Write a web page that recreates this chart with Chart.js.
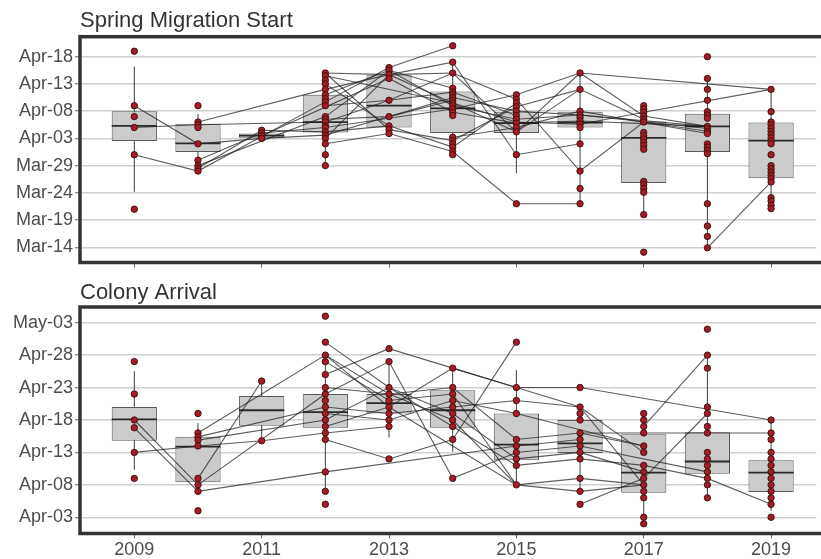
<!DOCTYPE html>
<html>
<head>
<meta charset="utf-8">
<script src="https://cdn.jsdelivr.net/npm/chart.js@4.4.1/dist/chart.umd.min.js"></script>
<style>
  html, body { margin: 0; padding: 0; background: #ffffff; overflow: hidden; }
  canvas { display: block; }
</style>
</head>
<body>
<canvas id="spring" width="821" height="280"></canvas>
<canvas id="arrival" width="821" height="279"></canvas>
<script>
// Day-of-year values (non-leap year): Mar-14 = 73, Apr-03 = 93, May-03 = 123.
const _ = null;
const years = [2009, 2010, 2011, 2012, 2013, 2014, 2015, 2016, 2017, 2018, 2019];
const yearTicks = [2009, 2011, 2013, 2015, 2017, 2019];

// ---------- Spring migration start ----------
const springTickDays = [73, 78, 83, 88, 93, 98, 103, 108];
const springTickLabels = ['Mar-14', 'Mar-19', 'Mar-24', 'Mar-29', 'Apr-03', 'Apr-08', 'Apr-13', 'Apr-18'];

const springLow  = [83.2, 87,   93,   88,   93.9, 90,   86.6, 81,   79,   72.9, 80];
const springQ1   = [92.5, 90.5, 93.1, 94.1, 95,   94,   94,   95,   84.8, 90.5, 85.7];
const springMed  = [95.3, 92.1, 93.5, 96,   99,   98.5, 95.8, 95.9, 93.1, 95.2, 92.6];
const springQ3   = [98,   95.7, 93.9, 101,  104.6, 101.6, 97.9, 97.9, 96.1, 97.5, 95.9];
const springHigh = [106.2, 97.5, 94.5, 105, 106,  107,  101,  105,  99,   104,  102];

const springPoints = [
  [109, 99, 97, 95, 90, 80],
  [99, 96, 95.5, 95, 92, 89, 88, 87.5, 87],
  [94.5, 94, 93.5, 93],
  [105, 104.5, 103.7, 103, 102, 101, 100.3, 99.7, 99, 97, 96.5, 96, 95.3, 95, 94.2, 93.6, 93, 92, 90, 88],
  [106, 105.5, 104.7, 104, 100, 97, 95.3, 94.6, 93.9],
  [110, 107, 105, 102.2, 101.5, 101, 100.5, 100, 99.5, 99, 98.4, 97.8, 97.2, 93.2, 92.6, 92, 91.4, 90.6, 90],
  [101, 100.2, 99.5, 98.8, 98, 97.2, 96.5, 95.8, 95, 94.2, 90, 81],
  [105, 102, 98, 97.3, 96.8, 96.2, 95.6, 95, 92, 87, 83.8, 81],
  [99, 98.4, 97.8, 97.1, 96.5, 96, 94.1, 93.5, 92.9, 92.3, 91.7, 91, 85.1, 84.5, 83.8, 83.1, 79, 72.1],
  [108, 104, 102, 100, 97.9, 97.3, 96.7, 95.2, 94.8, 94.3, 93.9, 92, 91.4, 90.8, 90.2, 81, 76.9, 75, 72.9],
  [102, 97.9, 96, 95.5, 94.9, 94.3, 93.7, 93.1, 92.5, 92, 90, 88, 87.4, 86.8, 86.2, 85.6, 85, 82.1, 81.5, 80.7, 80.1]
];

// One row per tracked bird, one column per year
const springTracks = [
  [99, 92, 93, 93.6, 97, 100, _, _, _, _, _],
  [90, 87, _, 99.7, 106, 110, _, _, _, _, _],
  [95, 95.5, _, 96, 100, 101.5, 97.2, _, _, _, _],
  [_, 96, _, 102, 104.7, 107, 90, 92, _, _, _],
  [_, 88, _, 97, 105.5, 102.2, _, _, _, _, _],
  [_, 89, 94, 95, _, 98.4, 101, 105, _, _, 102],
  [_, 87.5, 94.5, 94.2, 95.3, _, _, _, _, _, _],
  [_, _, 93.5, _, 104, 97.8, 95.8, 96.2, _, 95.2, _],
  [_, _, _, 105, 94.6, 92.6, 98.8, 102, 96.5, _, _],
  [_, _, _, 104.5, _, 99.5, 94.2, 105, 97.1, 95.2, _],
  [_, _, _, 92, 93.9, 90.6, 81, 81, _, _, _],
  [_, _, _, 103, 95.3, 91.4, 99.5, _, _, _, _],
  [_, _, _, 101, 105.5, 99, 96.5, 97.3, _, 94.8, _],
  [_, _, _, 93, 104.7, 105, 100.2, 87, 96, 94.3, _],
  [_, _, _, _, _, 93.2, 95, 98, _, 93.9, _],
  [_, _, _, _, _, _, _, 95.6, 97.8, _, 102],
  [_, _, _, _, _, _, _, _, _, 72.9, 85],
  [_, _, _, 105, 104.7, 99.5, 96, 95.6, _, _, _],
  [_, _, _, 96.5, 97, 100.5, 98, 97.3, _, 95.2, _],
  [_, _, _, 99, 100, 105, 94.2, 102, _, _, _]
];

// ---------- Colony arrival ----------
const arrivalTickDays = [93, 98, 103, 108, 113, 118, 123];
const arrivalTickLabels = ['Apr-03', 'Apr-08', 'Apr-13', 'Apr-18', 'Apr-23', 'Apr-28', 'May-03'];

const arrivalLow  = [100.3, 96.5, 104.8, 97.5, 105.3, 103.1, 98,    97,    92,    96,    94];
const arrivalQ1   = [104.8, 98.4, 107.1, 106.8, 109,  106.8, 101.8, 102.9, 96.8,  99.7,  96.9];
const arrivalMed  = [108.1, 103.9, 109.5, 109.2, 110.6, 109.5, 104.2, 104.4, 99.9, 101.6, 99.9];
const arrivalQ3   = [110,   105.4, 111.7, 112,  112,   112.6, 109,   108,   105.8, 106.1, 101.8];
const arrivalHigh = [115.5, 107.5, 114,   118,  117,   116,   115.7, 110,   109,   118,   108];

const arrivalPoints = [
  [117, 112, 108, 106.8, 103, 99],
  [109, 106, 105.4, 104.9, 104, 99, 98, 97, 94],
  [114, 104.8],
  [124, 120, 118, 117, 115, 113, 112, 111, 110, 109, 108, 107, 106, 105, 100, 97, 95],
  [119, 117, 113, 112, 111, 110, 109, 108, 107, 102],
  [116, 113, 112, 111, 110, 109, 108, 107, 105, 99],
  [120, 113, 111, 109, 105, 104, 103, 102, 101, 98],
  [113, 110, 109, 108, 106, 105, 104, 103, 102, 99, 97, 95],
  [109, 108, 107, 106, 104, 103, 101, 100, 99, 98, 97, 96, 93, 92],
  [122, 118, 116, 110, 109, 107, 106, 103, 102, 101, 100, 99, 98, 96],
  [108, 106, 105, 103, 102, 101, 100, 99, 98, 97, 96, 95, 93]
];

const arrivalTracks = [
  [108, 98, _, 112, _, _, _, _, _, _, _],
  [106.8, 97, _, 100, _, _, 104, 105, _, _, _],
  [103, 104, 104.8, 106, 107, _, _, _, _, _, _],
  [_, 99, 114, _, _, _, _, _, _, _, _],
  [_, 106, _, 118, 112, 108, 98, _, _, _, _],
  [_, 105.4, _, 110, 109, 110, 111, 110, 103, _, _],
  [_, 104.9, _, 108, 113, 109, 102, 103, 100, _, _],
  [_, _, _, 120, 113, 107, 101, 102, 101, 99, 95],
  [_, _, _, 117, 111, 112, 98, 99, 98, _, _],
  [_, _, _, 115, 119, 116, 113, 113, _, _, 108],
  [_, _, _, 105, 102, 105, 120, _, _, _, _],
  [_, _, _, 112, 117, 99, 103, 104, _, 100, _],
  [_, _, _, 109, 108, 111, 109, _, 104, _, _],
  [_, _, _, 118, 110, _, 98, 97, 98, _, _],
  [_, _, _, _, _, _, _, 95, 99, 109, _],
  [_, _, _, _, _, _, _, _, 107, 118, _],
  [_, _, _, _, _, _, _, _, _, 106, 106],
  [_, _, _, _, _, _, _, 106, _, 106, _],
  [_, _, _, 113, 112, 113, 105, 106, 104, _, _],
  [_, _, _, 107, 110, 116, 113, 110, 98, _, _]
];

// ---------- Drawing ----------
Chart.defaults.font.family = "'Liberation Sans', Arial, sans-serif";
const BOX_FRACTION = 0.71;
const TEXT_GREY = '#4d4d4d';

const panelFrame = {
  id: 'panelFrame',
  afterDraw(chart) {
    const { ctx, chartArea: a } = chart;
    ctx.save();
    ctx.strokeStyle = '#333333';
    ctx.lineWidth = 3.5;
    ctx.strokeRect(a.left, a.top, a.right - a.left + 30, a.bottom - a.top);
    ctx.restore();
  }
};

function halfBoxPixels(chart) {
  const xs = chart.scales.x;
  return Math.abs(xs.getPixelForValue(2010) - xs.getPixelForValue(2009)) * BOX_FRACTION / 2;
}

function makePanel(canvasId, cfg) {
  const whiskerData = [];
  years.forEach((yr, i) => {
    whiskerData.push({ x: yr, y: cfg.low[i] }, { x: yr, y: cfg.high[i] }, { x: yr, y: null });
  });
  const datasets = [
    {
      type: 'line', label: 'whiskers', data: whiskerData, order: 6,
      borderColor: '#3f3f3f', borderWidth: 1, pointRadius: 0, spanGaps: false
    },
    {
      type: 'bar', label: 'boxes', order: 5,
      data: years.map((yr, i) => ({ x: yr, y: [cfg.q1[i], cfg.q3[i]] })),
      backgroundColor: '#cbcbcb', borderColor: '#5a5a5a', borderWidth: 1,
      borderSkipped: false, barPercentage: 1, categoryPercentage: BOX_FRACTION
    },
    {
      type: 'scatter', label: 'medians', order: 4,
      data: years.map((yr, i) => ({ x: yr, y: cfg.med[i] })),
      pointStyle: 'line', pointRadius: c => halfBoxPixels(c.chart),
      pointBorderColor: '#2a2a2a', pointBorderWidth: 1.8
    }
  ];
  cfg.tracks.forEach((track, k) => {
    datasets.push({
      type: 'line', label: 'bird ' + (k + 1), order: 2,
      data: years.map((yr, i) => ({ x: yr, y: track[i] })),
      borderColor: 'rgba(30,30,30,0.72)', borderWidth: 1.1,
      pointRadius: 0, spanGaps: true
    });
  });
  const pts = [];
  years.forEach((yr, i) => cfg.points[i].forEach(v => pts.push({ x: yr, y: v })));
  datasets.push({
    type: 'scatter', label: 'birds', order: 0, data: pts,
    pointRadius: 3.2, pointBackgroundColor: '#a31d26',
    pointBorderColor: '#3c0b0d', pointBorderWidth: 0.9
  });

  return new Chart(document.getElementById(canvasId), {
    type: 'scatter',
    data: { datasets },
    plugins: [panelFrame],
    options: {
      responsive: false,
      animation: false,
      events: [],
      devicePixelRatio: 1,
      layout: { padding: 0 },
      plugins: {
        legend: { display: false },
        tooltip: { enabled: false },
        title: {
          display: true, text: cfg.title, align: 'start', fullSize: false,
          color: '#333333',
          font: { size: 22, weight: 'normal', lineHeight: 1 },
          padding: cfg.titlePadding
        }
      },
      scales: {
        x: {
          type: 'linear', min: 2008.147, max: 2019.707, offset: false,
          afterBuildTicks: s => { s.ticks = yearTicks.map(v => ({ value: v })); },
          afterFit: s => { s.height = cfg.xHeight; },
          grid: { offset: false, drawOnChartArea: false, drawTicks: true, tickLength: 5, tickColor: '#666666', tickWidth: 1 },
          border: { display: false },
          ticks: {
            display: cfg.showYears, color: TEXT_GREY, padding: 1,
            font: { size: 18 }, maxRotation: 0, autoSkip: false,
            callback: v => String(v)
          }
        },
        y: {
          type: 'linear', min: cfg.yMin, max: cfg.yMax,
          afterBuildTicks: s => { s.ticks = cfg.tickDays.map(v => ({ value: v })); },
          afterFit: s => { s.width = 80; },
          grid: { color: '#cfcfcf', lineWidth: 1.5, drawTicks: true, tickLength: 5, tickColor: '#666666', tickWidth: 1 },
          border: { display: false },
          ticks: {
            color: TEXT_GREY, padding: 2, font: { size: 18 }, autoSkip: false,
            callback: (v, idx) => cfg.tickLabels[idx]
          }
        }
      }
    }
  });
}

makePanel('spring', {
  title: 'Spring Migration Start',
  titlePadding: { top: 10, bottom: 4.7 },
  xHeight: 17.5, showYears: false,
  yMin: 70.21, yMax: 111.67,
  tickDays: springTickDays, tickLabels: springTickLabels,
  low: springLow, q1: springQ1, med: springMed, q3: springQ3, high: springHigh,
  points: springPoints, tracks: springTracks
});

makePanel('arrival', {
  title: 'Colony Arrival',
  titlePadding: { top: 2, bottom: 3 },
  xHeight: 25.5, showYears: true,
  yMin: 90.5, yMax: 125.42,
  tickDays: arrivalTickDays, tickLabels: arrivalTickLabels,
  low: arrivalLow, q1: arrivalQ1, med: arrivalMed, q3: arrivalQ3, high: arrivalHigh,
  points: arrivalPoints, tracks: arrivalTracks
});
</script>
</body>
</html>
